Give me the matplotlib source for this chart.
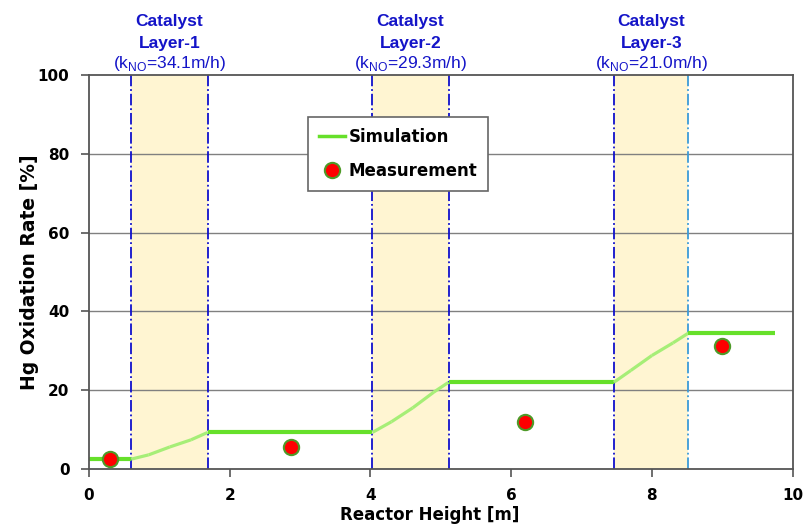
import numpy as np
import matplotlib
matplotlib.use("Agg")
import matplotlib.pyplot as plt

plt.rcParams['font.family'] = ['DejaVu Sans']
plt.rcParams['mathtext.fontset'] = 'custom'
plt.rcParams['mathtext.rm'] = 'Liberation Sans'

# catalyst layers (start, end) in m, and k_NO values
layer_start = [0.60, 4.03, 7.46]
layer_end = [1.69, 5.11, 8.52]
layer_names = ['Layer-1', 'Layer-2', 'Layer-3']
layer_kno = ['34.1', '29.3', '21.0']

# simulation curve
sim_x = [0.0, 0.60, 0.85, 1.15, 1.45, 1.69, 4.03, 4.30, 4.60, 4.90, 5.11,
         7.46, 7.70, 8.00, 8.30, 8.52, 9.75]
sim_y = [2.5, 2.5, 3.6, 5.6, 7.4, 9.3, 9.3, 12.0, 15.5, 19.5, 22.0,
         22.0, 25.0, 28.8, 32.0, 34.5, 34.5]

# measurements
meas_x = [0.30, 2.87, 6.19, 8.99]
meas_y = [2.5, 5.6, 11.9, 31.3]

fig = plt.figure(figsize=(8.08, 5.27), dpi=100)
ax = fig.add_axes([0.110, 0.110, 0.871, 0.748])
blend = ax.get_xaxis_transform()

# layer shading and boundaries
for i, (s, e) in enumerate(zip(layer_start, layer_end)):
    ax.axvspan(s, e, color='#FFF5D2', zorder=0, lw=0)
    ax.axvline(s, color='#1010CC', ls='-.', lw=1.3, zorder=1)
    ax.axvline(e, color='#1010CC' if i < 2 else '#3C9BD8', ls='-.', lw=1.3, zorder=1)
    c = (s + e) / 2
    # header text placed at fixed heights above the plot
    for txt, yfig, kw in [('Catalyst', 1 - 26 / 527, dict(fontweight='bold')),
                          (layer_names[i], 1 - 48 / 527, dict(fontweight='bold')),
                          (r'(k$_{\mathrm{NO}}$=' + layer_kno[i] + 'm/h)', 1 - 68 / 527, {})]:
        ax.text(c, (yfig - 0.110) / 0.748, txt, transform=blend, ha='center',
                va='baseline', fontsize=12.5, color='#1414C8',
                family='Liberation Sans', **kw)

# grid
for yv in [20, 40, 60, 80]:
    ax.axhline(yv, color='#808080', lw=1, zorder=0.5)

# simulation: brighter outside layers, lighter inside
sx = np.array(sim_x)
sy = np.array(sim_y)
for i in range(len(sx) - 1):
    mid = (sx[i] + sx[i + 1]) / 2
    inside = any(s <= mid <= e for s, e in zip(layer_start, layer_end))
    ax.plot(sx[i:i + 2], sy[i:i + 2], color='#A6EE77' if inside else '#66E02A',
            lw=2.3 if inside else 3, solid_capstyle='butt', zorder=2)

# legend proxy for simulation
ax.plot([], [], color='#66E02A', lw=2.5, label='Simulation')
ax.plot(meas_x, meas_y, 'o', color='#FF0000', mec='#4E9A28', mew=1.5, ms=11,
        ls='none', zorder=3, label='Measurement')

ax.set_xlim(0, 10)
ax.set_ylim(0, 100)
ax.set_xticks([0, 2, 4, 6, 8, 10])
ax.set_yticks([0, 20, 40, 60, 80, 100])
ax.tick_params(direction='out', length=6, width=1.2, color='#555555',
               labelsize=11, pad=8)
for lab in ax.get_xticklabels() + ax.get_yticklabels():
    lab.set_fontweight('bold')
for sp in ax.spines.values():
    sp.set_color('#555555')
    sp.set_linewidth(1.3)

ax.set_xlabel('Reactor Height [m]', fontsize=12, fontweight='bold')
ax.xaxis.set_label_coords(0.484, -0.095)
ax.set_ylabel('Hg Oxidation Rate [%]', fontsize=13.5, fontweight='bold', labelpad=-1)

leg = ax.legend(loc='upper left', bbox_to_anchor=(0.311, 0.893), fancybox=False,
                edgecolor='#666666', framealpha=1, prop={'weight': 'bold', 'size': 12},
                handlelength=1.6, handletextpad=0.2, borderpad=0.65, labelspacing=0.95,
                borderaxespad=0)
leg.get_frame().set_linewidth(1.2)

fig.savefig('out.png', dpi=100)
